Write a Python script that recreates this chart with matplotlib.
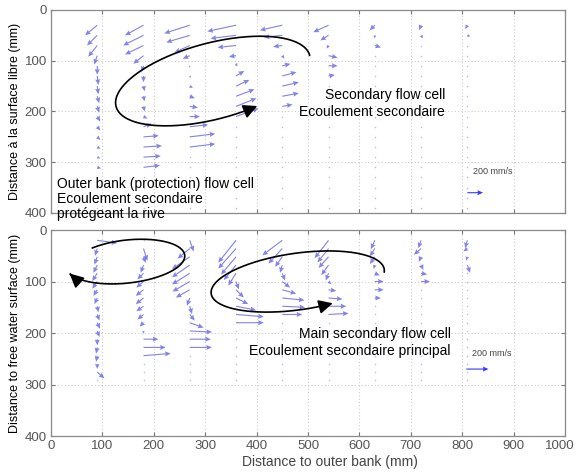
import numpy as np
import matplotlib
matplotlib.use("Agg")
import matplotlib.pyplot as plt
from matplotlib.patches import FancyArrowPatch
from matplotlib.path import Path
from matplotlib.transforms import ScaledTranslation

plt.rcParams['font.family'] = ['Liberation Sans', 'DejaVu Sans']

# measuring verticals (distance to outer bank, mm)
cols = [90, 180, 270, 360, 450, 540, 630, 720, 810]
depth_top = list(range(30, 391, 20))   # 19 points per vertical
depth_bot = list(range(20, 293, 16))   # 18 points per vertical

# top panel, transverse / vertical velocity (mm/s), one list per vertical
u_top = [
    [-155, -130, -115, -40, 0, 15, 15, 25, 25, 40, 40, 40, 40, 40, 50, 0, 0, 0, 0],
    [-235, -260, -235, -130, -25, 0, 15, 15, 15, 50, 105, 195, 235, 220, 210, 0, 0, 0, 0],
    [-325, -300, -195, -90, 0, 15, 40, 65, 105, 130, 235, 325, 325, 0, 0, 0, 0, 0, 0],
    [-365, -325, -235, -90, 15, 105, 170, 235, 260, 285, 0, 0, 0, 0, 0, 0, 0, 0, 0],
    [-285, -235, -115, 25, 105, 180, 210, 210, 130, 0, 0, 0, 0, 0, 0, 0, 0, 0, 0],
    [-195, -105, -25, 115, 115, 80, 0, 0, 0, 0, 0, 0, 0, 0, 0, 0, 0, 0, 0],
    [-65, 0, 80, 0, 0, 0, 0, 0, 0, 0, 0, 0, 0, 0, 0, 0, 0, 0, 0],
    [-25, 25, 0, 0, 0, 0, 0, 0, 0, 0, 0, 0, 0, 0, 0, 0, 0, 0, 0],
    [-25, 40, 0, 0, 0, 0, 0, 0, 0, 0, 0, 0, 0, 0, 0, 0, 0, 0, 0],
]
v_top = [
    [130, 130, 145, 115, 115, 115, 105, 90, 80, 65, 50, 40, 25, 15, 15, 0, 0, 0, 0],
    [130, 130, 115, 105, 80, 80, 65, 65, 65, 25, -40, -15, -15, -15, -25, 0, 0, 0, 0],
    [105, 90, 90, 40, 25, 25, 25, 25, 15, 0, -25, -40, -40, 0, 0, 0, 0, 0, 0],
    [80, 40, 25, 15, -40, -65, -80, -90, -105, -105, 0, 0, 0, 0, 0, 0, 0, 0, 0],
    [65, 25, 15, 40, -25, -50, -50, -40, -25, 0, 0, 0, 0, 0, 0, 0, 0, 0, 0],
    [90, 65, 40, 25, 0, -15, 0, 0, 0, 0, 0, 0, 0, 0, 0, 0, 0, 0, 0],
    [65, 40, 25, 0, 0, 0, 0, 0, 0, 0, 0, 0, 0, 0, 0, 0, 0, 0, 0],
    [65, 40, 0, 0, 0, 0, 0, 0, 0, 0, 0, 0, 0, 0, 0, 0, 0, 0, 0],
    [50, 15, 0, 0, 0, 0, 0, 0, 0, 0, 0, 0, 0, 0, 0, 0, 0, 0, 0],
]

# bottom panel
u_bot = [
    [180, -20, -25, -35, -45, -45, -35, -25, 10, 20, 25, 20, 0, -10, -10, 0, 65, 0],
    [0, 35, 20, -25, -55, -65, -70, -70, -65, -55, -35, 0, 135, 200, 245, 0, 0, 0],
    [35, -110, -160, -160, -160, -155, -125, -25, 20, 45, 125, 200, 190, 200, 0, 0, 0, 0],
    [-160, -160, -135, -110, -70, 25, 70, 110, 180, 250, 250, 0, 0, 0, 0, 0, 0, 0],
    [-180, -125, -65, -20, 25, 70, 125, 200, 205, 180, 0, 0, 0, 0, 0, 0, 0, 0],
    [-125, -100, -90, -65, -25, 25, 70, 125, 160, 180, 0, 0, 0, 0, 0, 0, 0, 0],
    [-35, -45, -45, -10, 45, 80, 80, 55, 0, 0, 0, 0, 0, 0, 0, 0, 0, 0],
    [-25, -65, -20, 20, 55, 80, 0, 0, 0, 0, 0, 0, 0, 0, 0, 0, 0, 0],
    [-20, -35, -10, 25, 0, 0, 0, 0, 0, 0, 0, 0, 0, 0, 0, 0, 0, 0],
]
v_bot = [
    [25, 65, 70, 70, 70, 65, 55, 55, 55, 55, 55, 55, 55, 55, 55, 45, 55, 0],
    [0, 110, 55, 70, 55, 55, 55, 55, 45, 45, 35, 25, 0, 0, -20, 0, 0, 0],
    [100, 90, 110, 110, 100, 90, 70, 70, 70, 55, 45, 10, 0, 0, 0, 0, 0, 0],
    [200, 180, 160, 135, 110, 70, 70, 55, 35, 20, 0, 0, 0, 0, 0, 0, 0, 0],
    [135, 135, 90, 70, 65, 55, 35, 20, 10, 0, 0, 0, 0, 0, 0, 0, 0, 0],
    [160, 125, 100, 90, 65, 25, 10, 10, 0, -10, 0, 0, 0, 0, 0, 0, 0, 0],
    [80, 70, 65, 35, 20, 0, 0, 0, 0, 0, 0, 0, 0, 0, 0, 0, 0, 0],
    [70, 55, 45, 45, 10, 0, 0, 0, 0, 0, 0, 0, 0, 0, 0, 0, 0, 0],
    [70, 25, 35, 70, 0, 0, 0, 0, 0, 0, 0, 0, 0, 0, 0, 0, 0, 0],
]

ref_speed = 200  # mm/s

ARROW = '#5b5be0'
GRAYTXT = '#555555'


def style_axes(ax, show_x):
    ax.set_xlim(0, 1000)
    ax.set_ylim(400, 0)
    ax.set_xticks(range(0, 1001, 100))
    ax.set_yticks(range(0, 401, 100))
    ax.grid(True, color='#cccccc', linestyle=(0, (1, 2)), linewidth=0.8)
    ax.set_axisbelow(True)
    ax.tick_params(direction='in', top=True, right=True, length=3,
                   color='#777777', labelcolor=GRAYTXT, labelsize=9.5, pad=3)
    if not show_x:
        ax.tick_params(labelbottom=False)
    for s in ax.spines.values():
        s.set_color('#8a8a8a')
        s.set_linewidth(0.9)


def draw_field(ax, depths, U, V, scale):
    X, Y = np.meshgrid(cols, depths, indexing='ij')
    U = np.array(U, float)
    V = np.array(V, float)
    zero = (U == 0) & (V == 0)
    ax.scatter(X[zero], Y[zero], s=1.2, color='#b9bdea', lw=0, zorder=2)
    ax.quiver(X[~zero], Y[~zero], U[~zero], V[~zero], angles='xy',
              scale_units='xy', scale=scale, color=ARROW, alpha=0.75,
              width=0.0022, headwidth=4.5, headlength=5, headaxislength=4.5,
              zorder=3)


def cell_arrow(ax, cx, cy, a, b, phi, t0, t1, grow=0.0):
    t = np.linspace(t0, t1, 200)
    r = 1 + grow * (t - t0) / (t1 - t0)
    ph = np.radians(phi)
    ux, uy = np.cos(ph), -np.sin(ph)
    wx, wy = np.sin(ph), np.cos(ph)
    x = cx + r * (a * np.cos(t) * ux + b * np.sin(t) * wx)
    y = cy + r * (a * np.cos(t) * uy + b * np.sin(t) * wy)
    p = FancyArrowPatch(path=Path(np.column_stack([x, y])),
                        arrowstyle='-|>,head_length=0.6,head_width=0.3',
                        mutation_scale=14, color='black', lw=1.2, zorder=5)
    ax.add_patch(p)


fig = plt.figure(figsize=(5.78, 4.73), dpi=100)
ax1 = fig.add_axes([0.0882, 0.5497, 0.8893, 0.4292])
ax2 = fig.add_axes([0.0882, 0.0782, 0.8893, 0.4355])

style_axes(ax1, False)
style_axes(ax2, True)

# keep the "1000" label inside the figure
last = ax2.get_xticklabels()[-1]
last.set_transform(last.get_transform() +
                   ScaledTranslation(-4 / 72, 0, fig.dpi_scale_trans))

# top panel
draw_field(ax1, depth_top, u_top, v_top, 6.55)
ax1.quiver([810], [360], [ref_speed], [0], angles='xy', scale_units='xy',
           scale=6.55, color='#3a3aff', width=0.0022, headwidth=4.5,
           headlength=5, headaxislength=4.5, zorder=3)
ax1.text(821, 319, '200 mm/s', fontsize=6.5, color='#444444', va='center')
cell_arrow(ax1, 315, 140, 195, 75, 15, 0.0, 1.2 - 2 * np.pi)
ax1.text(767, 185, 'Secondary flow cell\nEcoulement secondaire', fontsize=10,
         ha='right', va='center', multialignment='right', linespacing=1.25)

# bottom panel
draw_field(ax2, depth_bot, u_bot, v_bot, 4.63)
ax2.quiver([808], [270], [ref_speed], [0], angles='xy', scale_units='xy',
           scale=4.63, color='#3a3aff', width=0.0022, headwidth=4.5,
           headlength=5, headaxislength=4.5, zorder=3)
ax2.text(819, 239, '200 mm/s', fontsize=6.5, color='#444444', va='center')
cell_arrow(ax2, 148, 60, 108, 40, 6, -2.214, 2.85, grow=0.1)
cell_arrow(ax2, 480, 100, 170, 55, 8, 0.1, 1.2 - 2 * np.pi)
ax2.text(778, 218, 'Main secondary flow cell\nEcoulement secondaire principal',
         fontsize=10, ha='right', va='center', multialignment='right',
         linespacing=1.25)

fig.text(57 / 578, 1 - 177 / 473,
         'Outer bank (protection) flow cell\nEcoulement secondaire\nprotégeant la rive',
         fontsize=10, ha='left', va='top', linespacing=1.1, zorder=10)

fig.text(15 / 578, 1 - 111 / 473, 'Distance à la surface libre (mm)',
         rotation=90, ha='center', va='center', fontsize=9)
fig.text(15 / 578, 1 - 333 / 473, 'Distance to free water surface (mm)',
         rotation=90, ha='center', va='center', fontsize=9)
fig.text(330 / 578, 1 - 462 / 473, 'Distance to outer bank (mm)',
         ha='center', va='center', fontsize=10, color='#444444')

fig.savefig('out.png', dpi=100)
